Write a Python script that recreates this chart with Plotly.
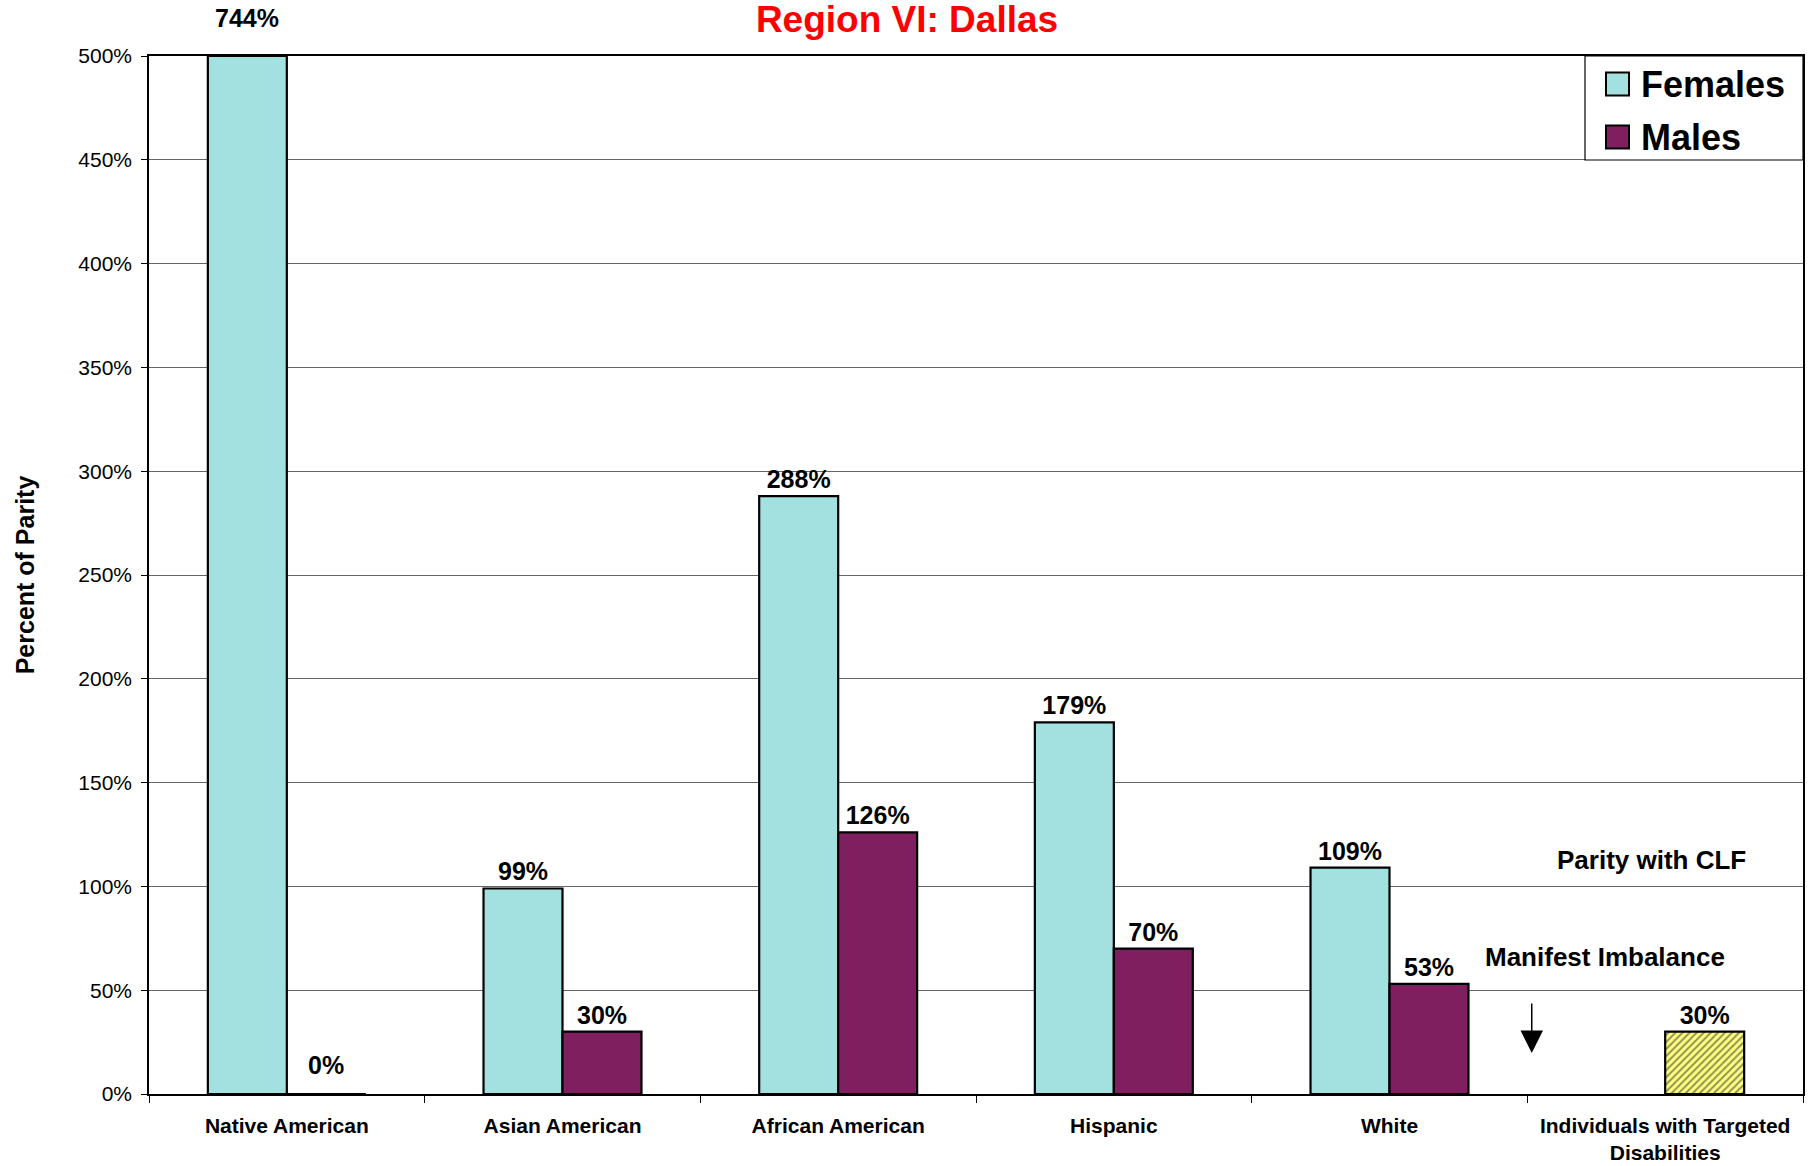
import plotly.graph_objects as go

categories = ["Native American", "Asian American", "African American", "Hispanic", "White",
              "Individuals with Targeted<br>Disabilities"]
females = [744, 99, 288, 179, 109, None]
males = [0, 30, 126, 70, 53, None]
disabilities = [None, None, None, None, None, 30]
y_ticks = [0, 50, 100, 150, 200, 250, 300, 350, 400, 450, 500]
y_max = 500

FONT = "Liberation Sans, Arial, sans-serif"
FEMALE_COLOR = "#A3E0E0"
MALE_COLOR = "#7F1F5F"
BARGAP = 0.427
BOLD = dict(family=FONT, color="black", weight="bold")


def labels(vals):
    return ["" if v is None or v > y_max or v == 0 else f"{v}%" for v in vals]


fig = go.Figure()
fig.add_trace(go.Bar(
    name="Females", x=categories, y=[min(v, y_max) if v is not None else None for v in females],
    offsetgroup="f", marker=dict(color=FEMALE_COLOR, line=dict(color="black", width=2.2)),
    text=labels(females), textposition="outside", cliponaxis=False,
    textfont=dict(BOLD, size=25), showlegend=False,
))
fig.add_trace(go.Bar(
    name="Males", x=categories, y=males, offsetgroup="m",
    marker=dict(color=MALE_COLOR, line=dict(color="black", width=2.2)),
    text=labels(males), textposition="outside", cliponaxis=False,
    textfont=dict(BOLD, size=25), showlegend=False,
))
fig.add_trace(go.Bar(
    name="Individuals with Targeted Disabilities", x=categories, y=disabilities, offsetgroup="m",
    showlegend=False,
    marker=dict(color="#FFFF99", line=dict(color="black", width=2.2),
                pattern=dict(shape="/", fgcolor="#222222", bgcolor="#FFFF80", size=5, solidity=0.4)),
    text=labels(disabilities), textposition="outside", cliponaxis=False,
    textfont=dict(BOLD, size=25),
))

annotations = []
# labels for bars exceeding the axis range
for i, v in enumerate(females):
    if v is not None and v > y_max:
        annotations.append(dict(
            x=i - (1 - BARGAP) / 4, xref="x", y=1, yref="paper", yanchor="bottom", yshift=22,
            text=f"{v}%", showarrow=False, font=dict(BOLD, size=25)))
# labels for zero-height bars
for i, v in enumerate(males):
    if v == 0:
        annotations.append(dict(
            x=i + (1 - BARGAP) / 4, xref="x", y=v, yref="y", yanchor="bottom", yshift=13,
            text=f"{v}%", showarrow=False, font=dict(BOLD, size=25)))

annotations += [
    dict(x=0.9087, y=0.2254, xref="paper", yref="paper", xanchor="center", yanchor="middle",
         text="Parity with CLF", showarrow=False, font=dict(BOLD, size=26)),
    dict(x=0.8803, y=0.132, xref="paper", yref="paper", xanchor="center", yanchor="middle",
         text="Manifest Imbalance", showarrow=False, font=dict(BOLD, size=26)),
    dict(x=0.836, y=0.0395, xref="paper", yref="paper", text="", showarrow=True,
         ax=0, ay=-51, arrowhead=2, arrowsize=3, arrowwidth=1.5, arrowcolor="black"),
]

# custom legend (box, swatches, names) in paper coordinates
PW, PH = 1654.0, 1038.0  # plot area size in px


def px_x(px):
    return (px - 149) / PW


def px_y(py):
    return (1094 - py) / PH


shapes = [dict(type="rect", xref="paper", yref="paper", x0=px_x(1585), x1=px_x(1803),
               y0=px_y(160), y1=px_y(56), line=dict(color="black", width=1.2), fillcolor="white",
               layer="above")]
legend_items = [("Females", FEMALE_COLOR, 84), ("Males", MALE_COLOR, 137)]
for name, color, cy in legend_items:
    shapes.append(dict(type="rect", xref="paper", yref="paper", x0=px_x(1606), x1=px_x(1629),
                       y0=px_y(cy + 11.5), y1=px_y(cy - 11.5), line=dict(color="black", width=2),
                       fillcolor=color, layer="above"))
    annotations.append(dict(x=px_x(1639), y=px_y(cy), xref="paper", yref="paper", xanchor="left",
                            yanchor="middle", text=name, showarrow=False, font=dict(BOLD, size=36)))

fig.update_layout(
    width=1814, height=1166,
    margin=dict(l=149, r=11, t=56, b=72, autoexpand=False),
    paper_bgcolor="white", plot_bgcolor="white",
    barmode="group", bargap=BARGAP, bargroupgap=0,
    font=dict(family=FONT, color="black"),
    showlegend=False,
    title=dict(text="Region VI: Dallas", x=0.5, xanchor="center", y=0.984, yanchor="middle",
               font=dict(family=FONT, size=37, color="red", weight="bold")),
    annotations=annotations,
    shapes=shapes,
    xaxis=dict(
        type="category", tickson="boundaries", ticks="outside", ticklen=7, tickcolor="black",
        showline=True, linecolor="black", linewidth=1.5, mirror=True, showgrid=False,
        automargin=False,
        tickfont=dict(family=FONT, size=21, color="black", weight="bold"), ticklabelstandoff=12,
    ),
    yaxis=dict(
        range=[0, y_max], tickvals=y_ticks, ticktext=[f"{t}%" for t in y_ticks],
        ticks="outside", ticklen=6, tickcolor="black",
        showline=True, linecolor="black", linewidth=1.5, mirror=True,
        showgrid=True, gridcolor="#666666", gridwidth=1, zeroline=False, automargin=False,
        tickfont=dict(family=FONT, size=21, color="black"), ticklabelstandoff=5,
        title=dict(text="Percent of Parity", standoff=37,
                   font=dict(family=FONT, size=25, color="black", weight="bold")),
    ),
)

fig.write_html("out.html", config={"displayModeBar": False},
               post_script="document.body.style.margin='0';")
